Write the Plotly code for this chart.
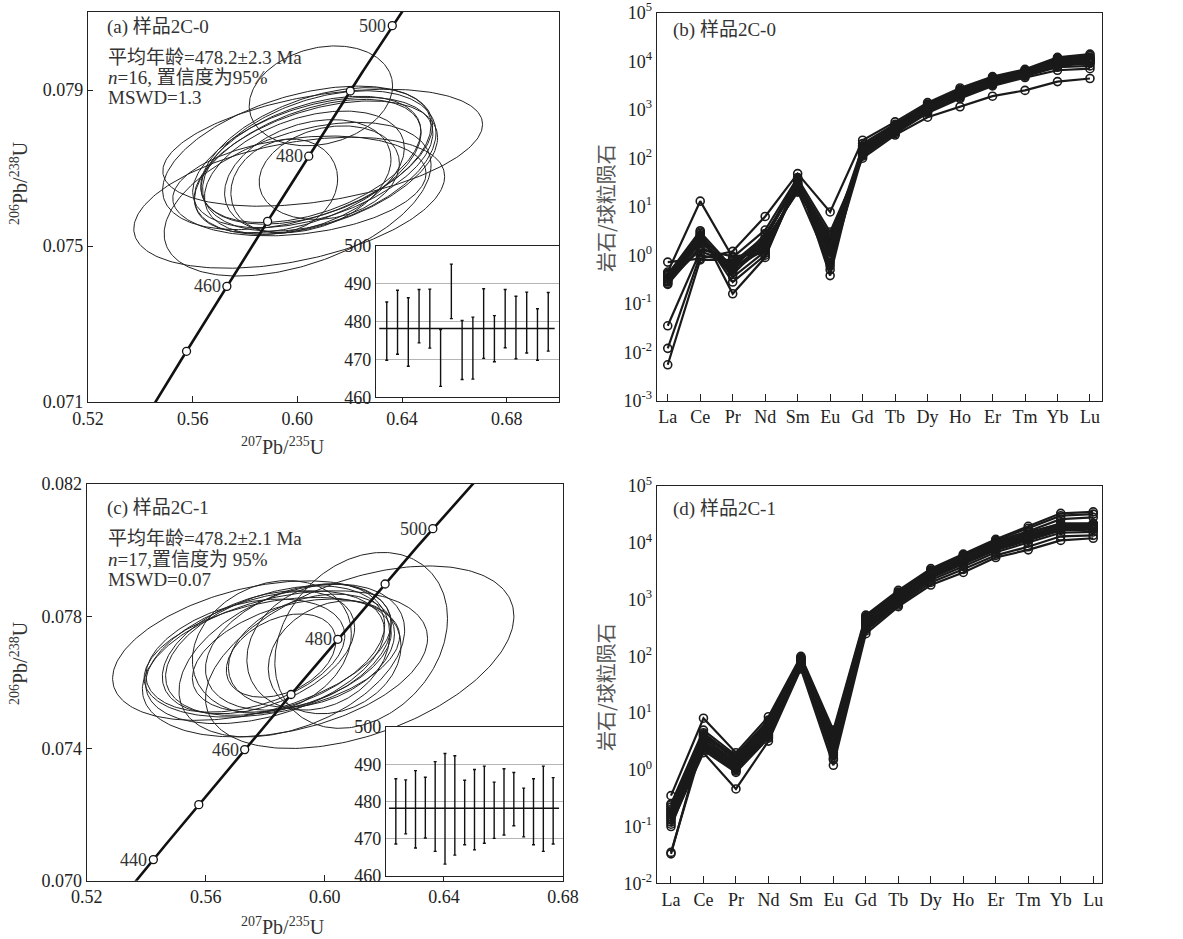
import numpy as np
import plotly.graph_objects as go

W, H = 1183, 939
FONT = "Liberation Serif, Times New Roman, Noto Sans CJK SC, serif"
CJK = "Noto Sans CJK SC, sans-serif"
INK = "#1a1a1a"

# ---------------- Concordia constants ----------------
LAMBDA_238 = 1.55125e-10
LAMBDA_235 = 9.8485e-10

# ---------------- Panel (a) data ----------------
conc_ages_a = [450, 460, 470, 480, 490, 500]
conc_labels_a = [460, 480, 500]
ell_a_x = [0.6090, 0.6097, 0.5969, 0.6001, 0.5950, 0.6122, 0.6001, 0.6071,
           0.6059, 0.6040, 0.6052, 0.6084, 0.6027, 0.6071, 0.6008, 0.6040]
ell_a_y = [0.07885, 0.07752, 0.07611, 0.07620, 0.07654, 0.07688, 0.07726, 0.07731,
           0.07714, 0.07705, 0.07722, 0.07718, 0.07688, 0.07701, 0.07654, 0.07679]
ell_a_sx = [0.0274, 0.0611, 0.0594, 0.0510, 0.0204, 0.0268, 0.0516, 0.0440,
            0.0459, 0.0433, 0.0420, 0.0446, 0.0382, 0.0465, 0.0484, 0.0318]
ell_a_sy = [0.00128, 0.00150, 0.00168, 0.00197, 0.00120, 0.00120, 0.00184, 0.00175,
            0.00167, 0.00171, 0.00162, 0.00180, 0.00158, 0.00171, 0.00128, 0.00145]
ell_a_rho = [0.20, 0.40, 0.40, 0.45, 0.15, 0.20, 0.45, 0.45,
             0.45, 0.50, 0.45, 0.40, 0.40, 0.45, 0.25, 0.30]
inset_a_high = [485.2, 488.3, 486.3, 488.5, 488.6, 477.9, 495.2, 480.3,
                481.2, 488.7, 481.6, 488.5, 486.7, 487.8, 483.4, 487.7]
inset_a_low = [469.8, 471.4, 468.2, 474.4, 473.0, 462.9, 480.8, 464.7,
               464.8, 470.3, 469.4, 473.1, 470.2, 471.7, 469.8, 472.2]
mean_a = 478.2
text_a = ["(a) 样品2C-0", "平均年龄=478.2±2.3 Ma", "<i>n</i>=16, 置信度为95%", "MSWD=1.3"]

# ---------------- Panel (c) data ----------------
conc_ages_c = [440, 450, 460, 470, 480, 490, 500]
conc_labels_c = [440, 460, 480, 500]
ell_c_x = [0.5755, 0.6117, 0.6122, 0.5978, 0.5822, 0.5853, 0.5799, 0.5833, 0.5889,
           0.5777, 0.5911, 0.5866, 0.5822, 0.5955, 0.5733, 0.6033, 0.5889]
ell_c_y = [0.07696, 0.07676, 0.07727, 0.07707, 0.07676, 0.07681, 0.07676, 0.07696, 0.07681,
           0.07691, 0.07707, 0.07656, 0.07707, 0.07696, 0.07681, 0.07676, 0.07666]
ell_c_sx = [0.0468, 0.0518, 0.0290, 0.0240, 0.0429, 0.0184, 0.0401, 0.0368, 0.0334,
            0.0323, 0.0312, 0.0479, 0.0267, 0.0279, 0.0334, 0.0223, 0.0379]
ell_c_sy = [0.00211, 0.00276, 0.00266, 0.00191, 0.00181, 0.00126, 0.00201, 0.00196, 0.00171,
            0.00186, 0.00191, 0.00221, 0.00201, 0.00171, 0.00171, 0.00171, 0.00231]
ell_c_rho = [0.40, 0.45, 0.25, 0.20, 0.35, 0.35, 0.40, 0.40, 0.40,
             0.40, 0.35, 0.35, 0.20, 0.30, 0.35, 0.20, 0.40]
inset_c_high = [486.1, 485.8, 488.3, 486.5, 490.7, 492.9, 492.3, 485.7, 488.6,
                489.5, 485.2, 488.8, 487.8, 483.6, 486.1, 489.5, 486.4]
inset_c_low = [468.6, 471.3, 467.5, 470.2, 466.6, 463.2, 465.6, 468.4, 467.0,
               468.8, 470.1, 471.0, 473.5, 470.5, 468.4, 466.6, 468.6]
mean_c = 478.2
text_c = ["(c) 样品2C-1", "平均年龄=478.2±2.1 Ma", "<i>n</i>=17,置信度为 95%", "MSWD=0.07"]

# ---------------- REE data ----------------
ree_elements = ["La", "Ce", "Pr", "Nd", "Sm", "Eu", "Gd", "Tb", "Dy", "Ho", "Er", "Tm", "Yb", "Lu"]

ree_b_samples = [
    [0.72, 0.85, 1.20, 6.3, 48, 7.8, 235, 560, 1400, 2800, 4800, 6800, 12000, 14000],
    [0.45, 13.0, 0.90, 3.3, 40, 0.38, 200, 500, 1300, 2600, 4600, 6500, 11500, 13000],
    [0.40, 3.2, 0.16, 0.90, 35, 0.50, 180, 470, 1250, 2500, 4400, 6300, 11000, 12000],
    [0.35, 2.8, 0.28, 1.0, 30, 0.70, 160, 450, 1200, 2400, 4200, 6100, 10500, 11500],
    [0.32, 2.5, 0.35, 1.2, 28, 1.0, 150, 420, 1150, 2300, 4000, 5900, 10000, 11000],
    [0.30, 2.2, 0.45, 1.5, 25, 1.2, 140, 400, 1100, 2200, 3900, 5700, 9500, 10500],
    [0.28, 2.0, 0.50, 1.8, 22, 1.5, 130, 380, 1050, 2100, 3800, 5500, 9000, 10000],
    [0.26, 1.8, 0.60, 2.0, 20, 2.0, 120, 360, 1000, 2000, 3600, 5300, 8500, 9500],
    [0.25, 1.5, 0.65, 2.2, 32, 2.5, 110, 340, 950, 1900, 3400, 5000, 8000, 9000],
    [0.035, 1.2, 0.70, 2.5, 38, 3.0, 100, 300, 700, 1150, 1900, 2500, 3800, 4400],
    [0.012, 1.0, 0.75, 1.6, 26, 1.8, 170, 440, 1180, 2350, 4100, 6000, 10200, 10800],
    [0.0055, 0.8, 0.80, 1.4, 24, 1.3, 155, 410, 1120, 2250, 3950, 5800, 9700, 10200],
    [0.38, 3.0, 0.55, 1.3, 30, 0.90, 145, 390, 1080, 2150, 3750, 5600, 9200, 9700],
    [0.33, 2.6, 0.50, 2.8, 27, 2.2, 125, 370, 980, 1950, 3500, 5200, 8700, 9200],
    [0.29, 1.3, 0.95, 1.1, 36, 1.6, 135, 350, 900, 1800, 3300, 4900, 7500, 8000],
    [0.42, 2.3, 0.40, 1.9, 21, 0.60, 115, 320, 850, 1700, 3100, 4600, 6500, 7000],
]

ree_d_samples = [
    [0.35, 8.1, 2.0, 8.6, 100, 5.0, 530, 1450, 3500, 6300, 11500, 19500, 33000, 35000],
    [0.25, 5.0, 1.8, 7.5, 95, 4.5, 500, 1350, 3300, 6000, 11000, 18000, 30000, 32000],
    [0.22, 4.5, 1.6, 7.0, 90, 4.0, 480, 1300, 3200, 5800, 10500, 16000, 26000, 28000],
    [0.20, 4.0, 1.5, 6.5, 85, 3.5, 460, 1250, 3100, 5600, 10000, 15000, 22000, 22000],
    [0.18, 3.5, 1.4, 6.0, 80, 3.2, 440, 1200, 3000, 5400, 9500, 14000, 20000, 20000],
    [0.17, 3.2, 1.3, 5.5, 75, 3.0, 420, 1150, 2900, 5200, 9200, 13500, 19000, 19500],
    [0.16, 3.0, 1.2, 5.0, 72, 2.8, 400, 1100, 2800, 5000, 9000, 13000, 18500, 19000],
    [0.15, 2.8, 1.1, 4.5, 70, 2.5, 380, 1050, 2700, 4800, 8600, 12500, 18000, 18500],
    [0.14, 2.6, 1.0, 4.2, 68, 2.2, 360, 1000, 2600, 4600, 8200, 12000, 17500, 18000],
    [0.13, 2.4, 0.95, 4.0, 65, 2.0, 340, 950, 2500, 4400, 7800, 11500, 17000, 17500],
    [0.12, 2.2, 0.90, 3.6, 62, 1.8, 320, 900, 2400, 4200, 7400, 11000, 16500, 17000],
    [0.11, 2.0, 0.46, 3.2, 60, 1.2, 250, 750, 1800, 3000, 5500, 7500, 11000, 12000],
    [0.10, 2.5, 1.15, 5.2, 78, 1.5, 300, 850, 2200, 3800, 6800, 10000, 15000, 15500],
    [0.033, 3.8, 1.25, 4.8, 82, 3.8, 450, 1180, 2950, 5300, 9300, 13800, 19500, 20500],
    [0.035, 3.0, 1.35, 5.8, 88, 2.6, 410, 1080, 2650, 4700, 8400, 12200, 17800, 18200],
    [0.20, 4.2, 1.70, 6.8, 92, 4.2, 470, 1280, 3150, 5700, 10200, 15500, 21000, 21500],
    [0.24, 2.7, 1.05, 3.8, 66, 1.6, 280, 800, 2000, 3400, 6000, 8500, 13000, 13500],
]


def px(x):
    return x / W


def py(y):
    return 1 - y / H


fig = go.Figure()


def concordia(t_ma):
    t = np.asarray(t_ma, dtype=float) * 1e6
    return np.exp(LAMBDA_235 * t) - 1, np.exp(LAMBDA_238 * t) - 1


def add_concordia_panel(xa, ya, cx, cy, sx, sy, rho, ages, labels):
    theta = np.linspace(0, 2 * np.pi, 240)
    for i in range(len(cx)):
        ex = cx[i] + sx[i] * np.cos(theta)
        ey = cy[i] + sy[i] * (rho[i] * np.cos(theta) + np.sqrt(1 - rho[i] ** 2) * np.sin(theta))
        fig.add_trace(go.Scatter(x=ex, y=ey, mode="lines", xaxis=xa, yaxis=ya,
                                 line=dict(color="#222", width=1), hoverinfo="skip",
                                 showlegend=False))
    tt = np.linspace(380, 560, 400)
    cxl, cyl = concordia(tt)
    fig.add_trace(go.Scatter(x=cxl, y=cyl, mode="lines", xaxis=xa, yaxis=ya,
                             line=dict(color="#111", width=2.6), showlegend=False,
                             hoverinfo="skip"))
    mx, my = concordia(ages)
    fig.add_trace(go.Scatter(x=mx, y=my, mode="markers", xaxis=xa, yaxis=ya,
                             marker=dict(symbol="circle", size=8, color="white",
                                         line=dict(color="#111", width=1.3)),
                             showlegend=False, cliponaxis=False))
    lx, ly = concordia(labels)
    for a, x0, y0 in zip(labels, lx, ly):
        fig.add_annotation(x=x0, y=y0, xref=xa, yref=ya, text=str(a), showarrow=False,
                           xanchor="right", yanchor="middle", xshift=-4,
                           font=dict(family=FONT, size=18, color="#333"))


def add_inset(xa, ya, high, low, mean):
    n = len(high)
    idx = list(range(1, n + 1))
    mid = [(h + l) / 2 for h, l in zip(high, low)]
    fig.add_trace(go.Scatter(x=[0.3, n + 0.6], y=[mean, mean], mode="lines",
                             xaxis=xa, yaxis=ya, line=dict(color="#111", width=1.4),
                             showlegend=False, hoverinfo="skip"))
    fig.add_trace(go.Scatter(
        x=idx, y=mid, mode="markers", xaxis=xa, yaxis=ya,
        marker=dict(size=1, opacity=0),
        error_y=dict(type="data", symmetric=False,
                     array=[h - m for h, m in zip(high, mid)],
                     arrayminus=[m - l for m, l in zip(mid, low)],
                     color="#111", thickness=1.4, width=1.5),
        showlegend=False, hoverinfo="skip"))


def add_ree(xa, ya, samples):
    for s in samples:
        fig.add_trace(go.Scatter(x=ree_elements, y=s, mode="lines+markers",
                                 xaxis=xa, yaxis=ya,
                                 line=dict(color=INK, width=2.2),
                                 marker=dict(symbol="circle-open", size=8, color=INK,
                                             line=dict(width=1.6)),
                                 showlegend=False, hoverinfo="skip"))


add_concordia_panel("x", "y", ell_a_x, ell_a_y, ell_a_sx, ell_a_sy, ell_a_rho,
                    conc_ages_a, conc_labels_a)
add_ree("x2", "y2", ree_b_samples)
add_concordia_panel("x3", "y3", ell_c_x, ell_c_y, ell_c_sx, ell_c_sy, ell_c_rho,
                    conc_ages_c, conc_labels_c)
add_ree("x4", "y4", ree_d_samples)
add_inset("x5", "y5", inset_a_high, inset_a_low, mean_a)
add_inset("x6", "y6", inset_c_high, inset_c_low, mean_c)

tickfont = dict(family=FONT, size=18, color="#222")
common = dict(showline=True, linecolor="#222", linewidth=1.2, mirror=True,
              showgrid=False, zeroline=False, tickfont=tickfont, tickcolor="#222",
              automargin=False, ticklabeloverflow="allow")
inset_x = dict(showticklabels=False, ticks="", showline=True, linecolor="#222",
               linewidth=1.2, mirror=True, showgrid=False, zeroline=False,
               automargin=False)
inset_y = dict(tickvals=[460, 470, 480, 490, 500], ticks="", showgrid=True,
               gridcolor="#b5b5b5", gridwidth=1.2, showline=True, linecolor="#222",
               linewidth=1.2, mirror=True, zeroline=False, tickfont=tickfont,
               automargin=False, range=[460, 500], ticklabeloverflow="allow")

fig.update_layout(
    width=W, height=H, margin=dict(l=0, r=0, t=0, b=0, autoexpand=False),
    paper_bgcolor="white", plot_bgcolor="white",
    font=dict(family=FONT, color="#222"),
    xaxis=dict(domain=[px(88), px(559)], anchor="y", range=[0.52, 0.70],
               tickvals=[0.52, 0.56, 0.60, 0.64, 0.68], tickformat=".2f",
               ticks="inside", ticklen=6, **common),
    yaxis=dict(domain=[py(402), py(12)], anchor="x", range=[0.071, 0.081],
               tickvals=[0.071, 0.075, 0.079], tickformat=".3f",
               ticks="inside", ticklen=5, **common),
    xaxis2=dict(domain=[px(656.7), px(1102.3)], anchor="y2", type="category",
                categoryorder="array", categoryarray=ree_elements,
                range=[-0.34, 13.38], ticks="inside", ticklen=7, **common),
    yaxis2=dict(domain=[py(400.7), py(12.7)], anchor="x2", type="log", range=[-3, 5],
                tickvals=[10.0 ** k for k in range(-3, 6)],
                ticktext=["10<sup>%d</sup>" % k for k in range(-3, 6)],
                ticks="", **common),
    xaxis3=dict(domain=[px(86.7), px(563)], anchor="y3", range=[0.52, 0.68],
                tickvals=[0.52, 0.56, 0.60, 0.64, 0.68], tickformat=".2f",
                ticks="inside", ticklen=6, **common),
    yaxis3=dict(domain=[py(880.7), py(484)], anchor="x3", range=[0.070, 0.082],
                tickvals=[0.070, 0.074, 0.078, 0.082], tickformat=".3f",
                ticks="inside", ticklen=5, **common),
    xaxis4=dict(domain=[px(656.7), px(1102.3)], anchor="y4", type="category",
                categoryorder="array", categoryarray=ree_elements,
                range=[-0.44, 13.28], ticks="inside", ticklen=7, **common),
    yaxis4=dict(domain=[py(883.3), py(486)], anchor="x4", type="log", range=[-2, 5],
                tickvals=[10.0 ** k for k in range(-2, 6)],
                ticktext=["10<sup>%d</sup>" % k for k in range(-2, 6)],
                ticks="", **common),
    xaxis5=dict(domain=[px(376), px(559)], anchor="y5",
                range=[0, len(inset_a_high) + 1], **inset_x),
    yaxis5=dict(domain=[py(397.3), py(246)], anchor="x5", **inset_y),
    xaxis6=dict(domain=[px(386), px(563)], anchor="y6",
                range=[0, len(inset_c_high) + 1], **inset_x),
    yaxis6=dict(domain=[py(876), py(727)], anchor="x6", **inset_y),
)


def note(x, y, text, size=19, anchor="left", family=FONT, color="#333", angle=0):
    fig.add_annotation(x=px(x), y=py(y), xref="paper", yref="paper", text=text,
                       showarrow=False, xanchor=anchor, yanchor="middle",
                       textangle=angle, font=dict(family=family, size=size, color=color))


for t, yy in zip(text_a, [27, 57, 78, 98]):
    note(105 if yy == 27 else 106, yy, t)
for t, yy in zip(text_c, [508, 538, 559, 579]):
    note(105 if yy == 508 else 106, yy, t)
note(671, 30, "(b) 样品2C-0")
note(671, 509, "(d) 样品2C-1")

xt = "<sup>207</sup>Pb/<sup>235</sup>U"
yt = "<sup>206</sup>Pb/<sup>238</sup>U"
note(283, 446, xt, size=20, anchor="center")
note(283, 926, xt, size=20, anchor="center")
note(19, 183, yt, size=20, anchor="center", angle=-90)
note(19, 663, yt, size=20, anchor="center", angle=-90)
note(605, 208, "岩石/球粒陨石", size=20, anchor="center", family=CJK, color="#555", angle=-90)
note(605, 687, "岩石/球粒陨石", size=20, anchor="center", family=CJK, color="#555", angle=-90)

# remove the browser's default 8px page margin so the figure fills the window exactly
fig.write_html("out.html", config={"displayModeBar": False},
               post_script="document.body.style.margin='0';")
